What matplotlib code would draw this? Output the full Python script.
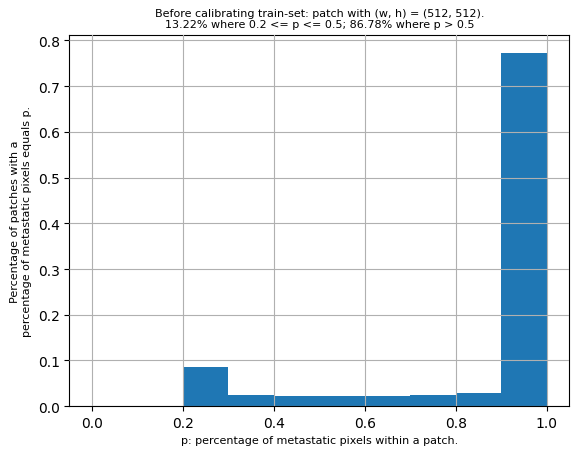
import numpy as np
import matplotlib
matplotlib.use("Agg")
from matplotlib import pyplot as plt

bin_edges = [0.0, 0.1, 0.2, 0.3, 0.4, 0.5, 0.6, 0.7, 0.8, 0.9, 1.0]
fractions = [0.0, 0.0, 0.085, 0.024, 0.023, 0.022, 0.022, 0.024, 0.028, 0.772]

fig, ax = plt.subplots(figsize=(5.78, 4.56), dpi=100)
ax.hist(bin_edges[:-1], bins=bin_edges, weights=fractions, color='#1f77b4')
ax.set_axisbelow(False)
ax.grid(True)
ax.set_title('Before calibrating train-set: patch with (w, h) = (512, 512).\n'
             '13.22% where 0.2 <= p <= 0.5; 86.78% where p > 0.5', fontsize=8)
ax.set_xlabel('p: percentage of metastatic pixels within a patch.', fontsize=8)
ax.set_ylabel('Percentage of patches with a\npercentage of metastatic pixels equals p.', fontsize=8)
fig.subplots_adjust(left=0.12, right=0.985, top=0.92, bottom=0.107)
fig.savefig('out.png')
